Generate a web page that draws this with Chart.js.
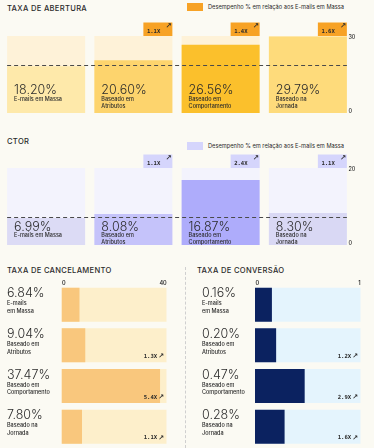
<!DOCTYPE html>
<html>
<head>
<meta charset="utf-8">
<script src="https://cdn.jsdelivr.net/npm/chart.js@4.4.1/dist/chart.umd.min.js"></script>
<style>
  body { margin: 0; background: #fbfaf3; font-family: Inter, "Noto Sans", sans-serif; color: #2b2b2b; }
  #page { position: relative; width: 374px; height: 448px; overflow: hidden; }
  .box { position: absolute; }
  .title { position: absolute; font-size: 7.6px; line-height: 8px; font-weight: 500; letter-spacing: 0.3px; white-space: nowrap; }
  .legend { position: absolute; font-size: 5.7px; line-height: 8px; display: flex; align-items: center; white-space: nowrap; }
  .legend i { display: inline-block; width: 16px; height: 8px; margin-right: 5px; }
  .sep { position: absolute; left: 185px; top: 267px; height: 181px; border-left: 1px dashed #cfcfcf; }
</style>
</head>
<body>
<div id="page">
  <div class="title" style="left:7px;top:5px">TAXA DE ABERTURA</div>
  <div class="legend" style="left:187px;top:3px"><i style="background:#f7a225"></i>Desempenho % em relação aos E-mails em Massa</div>
  <div class="box" style="left:0;top:18px"><canvas id="openChart" width="374" height="100"></canvas></div>

  <div class="title" style="left:7px;top:138px">CTOR</div>
  <div class="legend" style="left:187px;top:142px"><i style="background:#d5d5fc"></i>Desempenho % em relação aos E-mails em Massa</div>
  <div class="box" style="left:0;top:150px"><canvas id="ctorChart" width="374" height="100"></canvas></div>

  <div class="title" style="left:7px;top:267px">TAXA DE CANCELAMENTO</div>
  <div class="title" style="left:197px;top:267px">TAXA DE CONVERSÃO</div>
  <div class="sep"></div>
  <div class="box" style="left:0;top:280px"><canvas id="cancelChart" width="186" height="168"></canvas></div>
  <div class="box" style="left:186px;top:280px"><canvas id="convChart" width="188" height="168"></canvas></div>
</div>

<script>
// ── Data
const colCats = ["E-mails em Massa", "Baseado em\nAtributos", "Baseado em\nComportamento", "Baseado na\nJornada"];
const rowCats = ["E-mails\nem Massa", "Baseado em\nAtributos", "Baseado em\nComportamento", "Baseado na\nJornada"];

const openValues = [18.20, 20.60, 26.56, 29.79];
const openBadges = ["", "1.1X", "1.4X", "1.6X"];
const openMax = 30;

const ctorValues = [6.99, 8.08, 16.87, 8.30];
const ctorBadges = ["", "1.1X", "2.4X", "1.1X"];
const ctorMax = 20;

const cancelValues = [6.84, 9.04, 37.47, 7.80];
const cancelBadges = ["", "1.3X", "5.4X", "1.1X"];
const cancelMax = 40;

const convValues = [0.16, 0.20, 0.47, 0.28];
const convBadges = ["", "1.2X", "2.9X", "1.6X"];
const convMax = 1;

Chart.defaults.font.family = "Inter";
Chart.defaults.animation = false;
Chart.defaults.plugins.legend.display = false;
Chart.defaults.plugins.tooltip.enabled = false;

const INK = "#2b2b2b";

// ── Vertical panels (abertura / CTOR)
// txt = [number baseline, first label line, line step] measured up from the panel bottom
function columnChart(id, values, max, badges, barColors, panelColor, badgeColor, txt) {
  const overlay = {
    id: "colOverlay",
    afterDatasetsDraw(chart) {
      const { ctx, chartArea: a, scales: { y } } = chart;
      const bars = chart.getDatasetMeta(0).data;
      const first = bars[0], last = bars[bars.length - 1];
      ctx.save();
      // dashed line at the baseline (first category)
      const ry = Math.round(y.getPixelForValue(values[0])) - 0.5;
      ctx.setLineDash([4, 3]);
      ctx.strokeStyle = "#4a4a4a";
      ctx.lineWidth = 1;
      ctx.beginPath();
      ctx.moveTo(first.x - first.width / 2, ry);
      ctx.lineTo(last.x + last.width / 2, ry);
      ctx.stroke();
      ctx.setLineDash([]);

      bars.forEach((b, i) => {
        const left = b.x - b.width / 2, right = b.x + b.width / 2;
        ctx.fillStyle = INK;
        ctx.textAlign = "left";
        ctx.textBaseline = "alphabetic";
        ctx.font = "300 12.5px Inter";
        ctx.fillText(values[i].toFixed(2) + "%", left + 7, a.bottom - txt[0]);
        ctx.font = "500 5.5px Inter";
        ctx.textBaseline = "middle";
        colCats[i].split("\n").forEach((line, k) =>
          ctx.fillText(line, left + 7, a.bottom - txt[1] + k * txt[2]));
        if (badges[i]) {
          ctx.fillStyle = badgeColor;
          ctx.fillRect(right - 29, a.top - 13.5, 29, 13.5);
          ctx.fillStyle = INK;
          ctx.font = "bold 5.6px 'DejaVu Sans Mono'";
          ctx.textBaseline = "middle";
          ctx.fillText(badges[i], right - 25.5, a.top - 4.5);
          ctx.font = "bold 7.5px 'DejaVu Sans'";
          ctx.textAlign = "right";
          ctx.fillText("↗", right - 0.5, a.top - 9.5);
        }
      });

      ctx.fillStyle = INK;
      ctx.font = "500 5.5px Inter";
      ctx.textAlign = "left";
      ctx.textBaseline = "middle";
      ctx.fillText(String(y.max), last.x + last.width / 2 + 1.5, a.top + 1.5);
      ctx.fillText(String(y.min), last.x + last.width / 2 + 1.5, a.bottom - 1.5);
      ctx.restore();
    },
  };

  new Chart(document.getElementById(id), {
    type: "bar",
    data: {
      labels: colCats,
      datasets: [
        { data: values, backgroundColor: barColors, grouped: false },
        { data: values.map(() => max), backgroundColor: panelColor, grouped: false },
      ],
    },
    options: {
      responsive: false,
      devicePixelRatio: 1,
      layout: { padding: { left: 2.5, right: 22.5, top: 18, bottom: 5 } },
      datasets: { bar: { barPercentage: 1, categoryPercentage: 0.894, borderWidth: 0 } },
      scales: {
        x: { display: false },
        y: { display: false, min: 0, max: max },
      },
    },
    plugins: [overlay],
  });
}

// ── Horizontal panels (cancelamento / conversão)
function rowChart(id, values, max, badges, barColor, trackColor, labelX, padding) {
  const overlay = {
    id: "rowOverlay",
    afterDatasetsDraw(chart) {
      const { ctx, chartArea: a, scales: { x } } = chart;
      const bars = chart.getDatasetMeta(0).data;
      ctx.save();
      ctx.fillStyle = INK;
      ctx.font = "600 5.5px Inter";
      ctx.textBaseline = "middle";
      ctx.textAlign = "left";
      ctx.fillText(String(x.min), a.left + 0.5, a.top - 0.5);
      ctx.textAlign = "right";
      ctx.fillText(String(x.max), a.right, a.top - 0.5);

      bars.forEach((b, i) => {
        const top = b.y - b.height / 2, bottom = b.y + b.height / 2;
        ctx.fillStyle = INK;
        ctx.textAlign = "left";
        ctx.textBaseline = "alphabetic";
        ctx.font = "300 12.5px Inter";
        ctx.fillText(values[i].toFixed(2) + "%", labelX, top + 9.6);
        ctx.font = "500 5.5px Inter";
        ctx.textBaseline = "middle";
        rowCats[i].split("\n").forEach((line, k) => ctx.fillText(line, labelX, top + 16 + k * 7.7));
        if (badges[i]) {
          ctx.textAlign = "right";
          ctx.font = "bold 7px 'DejaVu Sans'";
          ctx.fillText("↗", a.right - 2.5, bottom - 6);
          ctx.font = "bold 5.6px 'DejaVu Sans Mono'";
          ctx.fillText(badges[i], a.right - 9.5, bottom - 5.8);
        }
      });
      ctx.restore();
    },
  };

  new Chart(document.getElementById(id), {
    type: "bar",
    data: {
      labels: rowCats,
      datasets: [
        { data: values, backgroundColor: barColor, grouped: false },
        { data: values.map(() => max), backgroundColor: trackColor, grouped: false },
      ],
    },
    options: {
      indexAxis: "y",
      responsive: false,
      devicePixelRatio: 1,
      layout: { padding: padding },
      datasets: { bar: { barPercentage: 1, categoryPercentage: 0.835, borderWidth: 0 } },
      scales: {
        x: { display: false, min: 0, max: max },
        y: { display: false },
      },
    },
    plugins: [overlay],
  });
}

columnChart("openChart", openValues, openMax, openBadges,
  ["#fee9aa", "#fdd46d", "#fbc02c", "#fedb7b"], "#fef2d8", "#f7a225", [19.5, 14, 7.7]);
columnChart("ctorChart", ctorValues, ctorMax, ctorBadges,
  ["#dcdbf5", "#c5c3fa", "#aeacfb", "#d9d8f4"], "#f3f3fd", "#d5d5fc", [14.3, 9.6, 7]);
rowChart("cancelChart", cancelValues, cancelMax, cancelBadges, "#f9c77d", "#fdefcb", 7,
  { left: 61.5, right: 19.3, top: 4.3, bottom: 0.9 });
rowChart("convChart", convValues, convMax, convBadges, "#0b2260", "#e4f4fd", 16,
  { left: 69, right: 13.3, top: 4.3, bottom: 0.9 });
</script>
</body>
</html>
